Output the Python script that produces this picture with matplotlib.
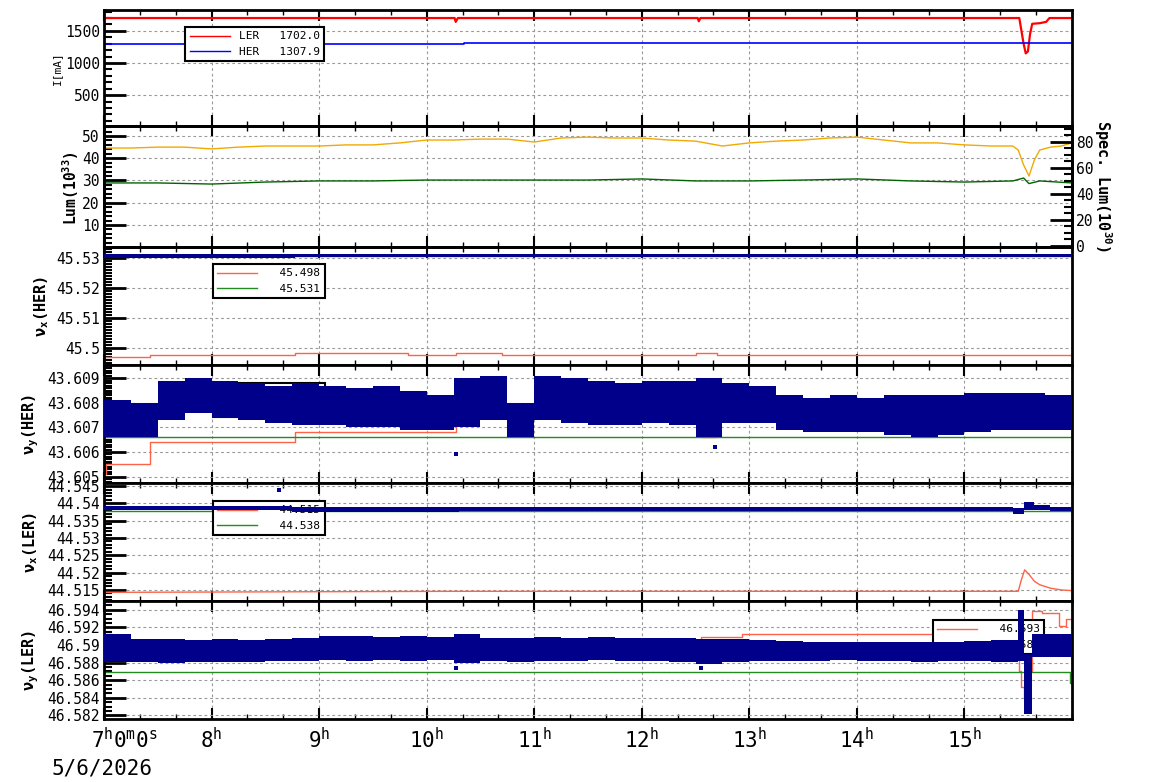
import numpy as np
import matplotlib
matplotlib.use('Agg')
import matplotlib.pyplot as plt
from matplotlib.ticker import MultipleLocator, FuncFormatter
from matplotlib.lines import Line2D

plt.rcParams['font.family'] = ['DejaVu Sans Mono', 'DejaVu Sans']
plt.rcParams['mathtext.fontset'] = 'custom'
plt.rcParams['mathtext.rm'] = 'DejaVu Sans Mono'
plt.rcParams['mathtext.bf'] = 'DejaVu Sans Mono:bold'
plt.rcParams['mathtext.it'] = 'DejaVu Sans Mono:italic'

# ---------------- data (time in hours of 5/6/2026) ----------------
hour_ticks = [7, 8, 9, 10, 11, 12, 13, 14, 15]
date_label = "5/6/2026"

# Panel 1: beam currents [mA]
ler_t = [7.0, 10.26, 10.27, 10.29, 12.52, 12.53, 12.545, 15.51, 15.53, 15.55, 15.57,
         15.59, 15.61, 15.63, 15.70, 15.76, 15.79, 16.0]
ler_i = [1700, 1700, 1640, 1700, 1700, 1650, 1700, 1700, 1500, 1300, 1150,
         1180, 1450, 1610, 1620, 1640, 1700, 1700]
her_t = [7.0, 10.35, 10.35, 16.0]
her_i = [1290, 1290, 1305, 1305]
ler_legend = "LER   1702.0"
her_legend = "HER   1307.9"

# Panel 2: luminosity
lum_t = [7.0, 7.25, 7.5, 7.75, 8.0, 8.25, 8.5, 8.75, 9.0, 9.25, 9.5, 9.75, 10.0, 10.25,
         10.5, 10.75, 11.0, 11.25, 11.5, 11.75, 12.0, 12.25, 12.5, 12.75, 13.0, 13.25,
         13.5, 13.75, 14.0, 14.25, 14.5, 14.75, 15.0, 15.25, 15.45, 15.5, 15.55, 15.6,
         15.65, 15.7, 15.8, 15.9, 16.0]
lum_v = [44.6, 44.6, 45.0, 45.0, 44.2, 45.0, 45.5, 45.5, 45.5, 46.0, 46.0, 46.9, 48.2, 48.2,
         48.6, 48.6, 47.3, 49.1, 49.5, 49.1, 49.1, 48.2, 47.7, 45.5, 46.9, 47.7,
         48.2, 49.1, 49.5, 48.2, 46.9, 46.9, 46.0, 45.5, 45.5, 43.7, 37.0, 32.0,
         39.2, 43.7, 45.0, 45.5, 46.9]
slum_t = [7.0, 7.5, 8.0, 8.5, 9.0, 9.5, 10.0, 10.5, 11.0, 11.5, 12.0, 12.5, 13.0, 13.5,
          14.0, 14.5, 15.0, 15.45, 15.55, 15.6, 15.7, 16.0]
slum_v = [28.9, 28.9, 28.4, 29.3, 29.8, 29.8, 30.2, 30.2, 30.2, 30.2, 30.7, 29.8, 29.8, 30.2,
          30.7, 29.8, 29.3, 29.8, 31.1, 28.6, 29.8, 28.9]

# Panel 3: nu_x (HER)
nxH_red_t = [7.0, 7.43, 8.78, 9.83, 10.27, 10.7, 12.5, 12.7, 16.0]
nxH_red_v = [45.4970, 45.4976, 45.4981, 45.4976, 45.4981, 45.4976, 45.4981, 45.4976, 45.4976]
nxH_green = 45.5308
nxH_band_t = [7.0, 8.78]
nxH_band_lo = [45.5302, 45.5304]
nxH_band_hi = [45.5313, 45.5316]
nxH_legend = ["  45.498", "  45.531"]

# Panel 4: nu_y (HER)
nyH_red_t = [7.0, 7.02, 7.43, 8.78, 10.27, 12.55, 12.7, 16.0]
nyH_red_v = [43.6051, 43.6055, 43.6064, 43.6068, 43.6078, 43.6066, 43.6080, 43.6080]
nyH_green = 43.6066
nyH_band_t = [7.0, 7.25, 7.5, 7.75, 8.0, 8.25, 8.5, 8.75, 9.0, 9.25, 9.5, 9.75,
              10.0, 10.25, 10.5, 10.75, 11.0, 11.25, 11.5, 11.75, 12.0, 12.25, 12.5, 12.75,
              13.0, 13.25, 13.5, 13.75, 14.0, 14.25, 14.5, 14.75, 15.0, 15.25, 15.5, 15.75]
nyH_band_hi = [43.6081, 43.6080, 43.6089, 43.6090, 43.6089, 43.6088, 43.6087, 43.6088,
               43.6087, 43.6086, 43.6087, 43.6085, 43.6083, 43.6090, 43.6091, 43.6080,
               43.6091, 43.6090, 43.6089, 43.6088, 43.6089, 43.6089, 43.6090, 43.6088,
               43.6087, 43.6083, 43.6082, 43.6083, 43.6082, 43.6083, 43.6083, 43.6083,
               43.6084, 43.6084, 43.6084, 43.6083]
nyH_band_lo = [43.6066, 43.6066, 43.6073, 43.6076, 43.6074, 43.6073, 43.6072, 43.6071,
               43.6071, 43.6070, 43.6070, 43.6069, 43.6069, 43.6070, 43.6073, 43.6066,
               43.6073, 43.6072, 43.6071, 43.6071, 43.6072, 43.6071, 43.6066, 43.6072,
               43.6072, 43.6069, 43.6068, 43.6068, 43.6068, 43.6067, 43.6066, 43.6067,
               43.6068, 43.6069, 43.6069, 43.6069]
nyH_out_t = [10.27, 12.68]
nyH_out_v = [43.6059, 43.6062]
nyH_legend = ["  43.608", "  43.607"]

# Panel 5: nu_x (LER)
nxL_red_t = [7.0, 10.27, 15.5, 15.53, 15.56, 15.6, 15.65, 15.7, 15.8, 15.9, 16.0]
nxL_red_v = [44.5143, 44.5146, 44.5146, 44.5180, 44.5208, 44.5195, 44.5175, 44.5165,
             44.5155, 44.5150, 44.5148]
nxL_green = 44.5379
nxL_band_t = [7.0, 8.75, 10.3, 15.45, 15.55, 15.65, 15.8]
nxL_band_lo = [44.5380, 44.5376, 44.5379, 44.5369, 44.5382, 44.5380, 44.5379]
nxL_band_hi = [44.5392, 44.5390, 44.5391, 44.5388, 44.5405, 44.5396, 44.5391]
nxL_out_t = [8.63]
nxL_out_v = [44.5439]
nxL_legend = ["  44.515", "  44.538"]

# Panel 6: nu_y (LER)
nyL_red_t = [7.0, 7.07, 8.64, 10.27, 12.55, 12.93, 15.51, 15.53, 15.55, 15.57, 15.6,
             15.63, 15.72, 15.88, 15.94, 16.0]
nyL_red_v = [46.5912, 46.5902, 46.5903, 46.5904, 46.5909, 46.5912, 46.5871, 46.5852,
             46.5840, 46.5829, 46.5871, 46.5939, 46.5936, 46.5922, 46.5929, 46.5929]
nyL_green_t = [7.0, 15.98, 15.98, 16.0]
nyL_green_v = [46.5869, 46.5869, 46.5857, 46.5857]
nyL_band_t = [7.0, 7.25, 7.5, 7.75, 8.0, 8.25, 8.5, 8.75, 9.0, 9.25, 9.5, 9.75,
              10.0, 10.25, 10.5, 10.75, 11.0, 11.25, 11.5, 11.75, 12.0, 12.25, 12.5, 12.75,
              13.0, 13.25, 13.5, 13.75, 14.0, 14.25, 14.5, 14.75, 15.0, 15.25, 15.5, 15.55,
              15.63]
nyL_band_hi = [46.5912, 46.5907, 46.5907, 46.5906, 46.5907, 46.5906, 46.5907, 46.5908,
               46.5910, 46.5910, 46.5909, 46.5910, 46.5909, 46.5912, 46.5908, 46.5908,
               46.5909, 46.5908, 46.5909, 46.5908, 46.5908, 46.5908, 46.5907, 46.5907,
               46.5906, 46.5905, 46.5904, 46.5904, 46.5904, 46.5903, 46.5903, 46.5904,
               46.5905, 46.5906, 46.5940, 46.5890, 46.5912]
nyL_band_lo = [46.5881, 46.5881, 46.5880, 46.5881, 46.5881, 46.5881, 46.5882, 46.5882,
               46.5883, 46.5882, 46.5883, 46.5882, 46.5883, 46.5880, 46.5882, 46.5881,
               46.5882, 46.5882, 46.5883, 46.5882, 46.5882, 46.5881, 46.5878, 46.5881,
               46.5882, 46.5882, 46.5882, 46.5883, 46.5882, 46.5882, 46.5881, 46.5882,
               46.5882, 46.5881, 46.5882, 46.5822, 46.5886]
nyL_out_t = [10.27, 12.55]
nyL_out_v = [46.5874, 46.5874]
nyL_legend = ["  46.593", "  46.586"]

# ---------------- styling ----------------
C_RED = '#ff0000'
C_BLUE = '#0000ff'
C_ORANGE = '#f2a900'
C_DGREEN = '#006400'
C_TRED = '#ff6347'
C_TGREEN = '#228b22'
C_NAVY = '#00008b'
T_END = 16.0

W, H = 1154, 782
fig = plt.figure(figsize=(W / 100, H / 100), dpi=100)
left, right = 104 / W, 1072 / W
edges = [10, 126, 247, 365, 483, 601, 719]
axes = []
for i in range(6):
    top = 1 - edges[i] / H
    bot = 1 - edges[i + 1] / H
    ax = fig.add_axes([left, bot, right - left, top - bot],
                      sharex=axes[0] if axes else None)
    axes.append(ax)

fmt_g = FuncFormatter(lambda v, p: f'{v:g}')


def style(ax, ylim, ymaj, ymin):
    ax.set_xlim(7, 16)
    ax.set_ylim(*ylim)
    ax.xaxis.set_major_locator(MultipleLocator(1))
    ax.xaxis.set_minor_locator(MultipleLocator(1 / 3))
    ax.yaxis.set_major_locator(MultipleLocator(ymaj))
    ax.yaxis.set_minor_locator(MultipleLocator(ymin))
    ax.yaxis.set_major_formatter(fmt_g)
    ax.tick_params(axis='x', which='both', direction='in', top=True, bottom=True,
                   labelbottom=False)
    ax.tick_params(axis='x', which='major', length=8, width=1.5)
    ax.tick_params(axis='x', which='minor', length=3.5, width=1)
    ax.tick_params(axis='y', which='both', direction='in', left=True, right=False,
                   labelsize=10.5, pad=3)
    ax.tick_params(axis='y', which='major', length=16, width=2)
    ax.tick_params(axis='y', which='minor', length=6, width=1.5)
    for s in ax.spines.values():
        s.set_linewidth(2)
    ax.grid(True, which='major', color='#999999', ls=(0, (2.5, 2.5)), lw=0.8)


def add_legend(ax, colors, labels, x, y):
    handles = [Line2D([], [], color=c, lw=1) for c in colors]
    leg = ax.legend(handles, labels, loc='upper left', bbox_to_anchor=(x, y),
                    borderaxespad=0, fancybox=False, edgecolor='black', framealpha=1,
                    prop={'family': 'DejaVu Sans Mono', 'size': 8}, handlelength=3.6)
    leg.get_frame().set_linewidth(1.5)
    leg.set_zorder(2.5)
    return leg


def band(ax, t, lo, hi):
    t = np.asarray(t)
    lo = np.asarray(lo)
    hi = np.asarray(hi)
    w = np.diff(np.append(t, T_END))
    ax.bar(t, hi - lo, width=w, bottom=lo, align='edge', color=C_NAVY, lw=0, zorder=3)


# Panel 1
ax = axes[0]
style(ax, (20, 1825), 500, 100)
ax.plot(ler_t, ler_i, color=C_RED, lw=1.6, zorder=2)
ax.plot(her_t, her_i, color=C_BLUE, lw=1.2, zorder=2)
add_legend(ax, [C_RED, C_BLUE], [ler_legend, her_legend], 0.084, 0.853)

# Panel 2
ax = axes[1]
style(ax, (0.1, 54.5), 10, 2)
ax.plot(lum_t, lum_v, color=C_ORANGE, lw=1.0, zorder=2)
ax.plot(slum_t, slum_v, color=C_DGREEN, lw=1.0, zorder=2)
axr = ax.twinx()
axr.set_ylim(-0.8, 92.1)
axr.yaxis.set_major_locator(MultipleLocator(20))
axr.yaxis.set_minor_locator(MultipleLocator(5))
axr.yaxis.set_major_formatter(fmt_g)
axr.tick_params(axis='y', which='both', direction='in', right=True, left=False,
                labelsize=10.5, pad=3)
axr.tick_params(axis='y', which='major', length=16, width=2)
axr.tick_params(axis='y', which='minor', length=6, width=1.5)
for s in axr.spines.values():
    s.set_linewidth(2)

# Panel 3
ax = axes[2]
style(ax, (45.4942, 45.5338), 0.01, 0.001)
ax.step(nxH_red_t, nxH_red_v, where='post', color=C_TRED, lw=1.0, zorder=2)
ax.axhline(nxH_green, color=C_TGREEN, lw=1.0, zorder=2)
band(ax, nxH_band_t, nxH_band_lo, nxH_band_hi)
add_legend(ax, [C_TRED, C_TGREEN], nxH_legend, 0.1126, 0.856)

# Panel 4
ax = axes[3]
style(ax, (43.60474, 43.60954), 0.001, 0.0001)
ax.step(nyH_red_t, nyH_red_v, where='post', color=C_TRED, lw=1.0, zorder=2)
ax.axhline(nyH_green, color=C_TGREEN, lw=1.0, zorder=2)
band(ax, nyH_band_t, nyH_band_lo, nyH_band_hi)
ax.scatter(nyH_out_t, nyH_out_v, s=6, marker='s', color=C_NAVY, lw=0, zorder=3)
add_legend(ax, [C_TRED, C_TGREEN], nyH_legend, 0.1126, 0.847)

# Panel 5
ax = axes[4]
style(ax, (44.5118, 44.5459), 0.005, 0.001)
ax.plot(nxL_red_t, nxL_red_v, color=C_TRED, lw=1.0, zorder=2)
ax.axhline(nxL_green, color=C_TGREEN, lw=1.0, zorder=2)
band(ax, nxL_band_t, nxL_band_lo, nxL_band_hi)
ax.scatter(nxL_out_t, nxL_out_v, s=6, marker='s', color=C_NAVY, lw=0, zorder=3)
add_legend(ax, [C_TRED, C_TGREEN], nxL_legend, 0.1126, 0.847)

# Panel 6
ax = axes[5]
style(ax, (46.5816, 46.5950), 0.002, 0.0005)
ax.step(nyL_red_t, nyL_red_v, where='post', color=C_TRED, lw=1.0, zorder=2)
ax.plot(nyL_green_t, nyL_green_v, color=C_TGREEN, lw=1.0, zorder=2)
band(ax, nyL_band_t, nyL_band_lo, nyL_band_hi)
ax.scatter(nyL_out_t, nyL_out_v, s=6, marker='s', color=C_NAVY, lw=0, zorder=3)
add_legend(ax, [C_TRED, C_TGREEN], nyL_legend, 0.856, 0.839)

# x tick labels on the bottom panel
ax.set_xticks(hour_ticks)
ax.set_xticklabels([''] + [r'$%d^{\mathrm{h}}$' % h for h in hour_ticks[1:]])
ax.tick_params(axis='x', which='major', labelbottom=True, labelsize=15, pad=6)
fig.text(124 / W, 1 - 727 / H, r'$7^{\mathrm{h}}0^{\mathrm{m}}0^{\mathrm{s}}$',
         fontsize=15, ha='center', va='top')
fig.text(101.7 / W, 1 - 768 / H, date_label, fontsize=15, ha='center', va='center')

# y labels
fig.text(57 / W, 1 - 68 / H, 'I[mA]', fontsize=8, rotation=90, ha='center', va='center')
fig.text(71 / W, 1 - 188 / H, r'Lum(10$^{\mathbf{33}}$)', fontsize=10.5, fontweight='bold',
         rotation=90, ha='center', va='center')
fig.text(1103 / W, 1 - 186 / H, r'Spec. Lum(10$^{\mathbf{30}}$)', fontsize=11,
         fontweight='bold', rotation=270, ha='center', va='center')
fig.text(42 / W, 1 - 306 / H, r'ν$_{\mathbf{x}}$(HER)', fontsize=11, fontweight='bold',
         rotation=90, ha='center', va='center')
fig.text(31 / W, 1 - 424 / H, r'ν$_{\mathbf{y}}$(HER)', fontsize=11, fontweight='bold',
         rotation=90, ha='center', va='center')
fig.text(31 / W, 1 - 542 / H, r'ν$_{\mathbf{x}}$(LER)', fontsize=11, fontweight='bold',
         rotation=90, ha='center', va='center')
fig.text(31 / W, 1 - 660 / H, r'ν$_{\mathbf{y}}$(LER)', fontsize=11, fontweight='bold',
         rotation=90, ha='center', va='center')

fig.savefig('out.png', dpi=100)
